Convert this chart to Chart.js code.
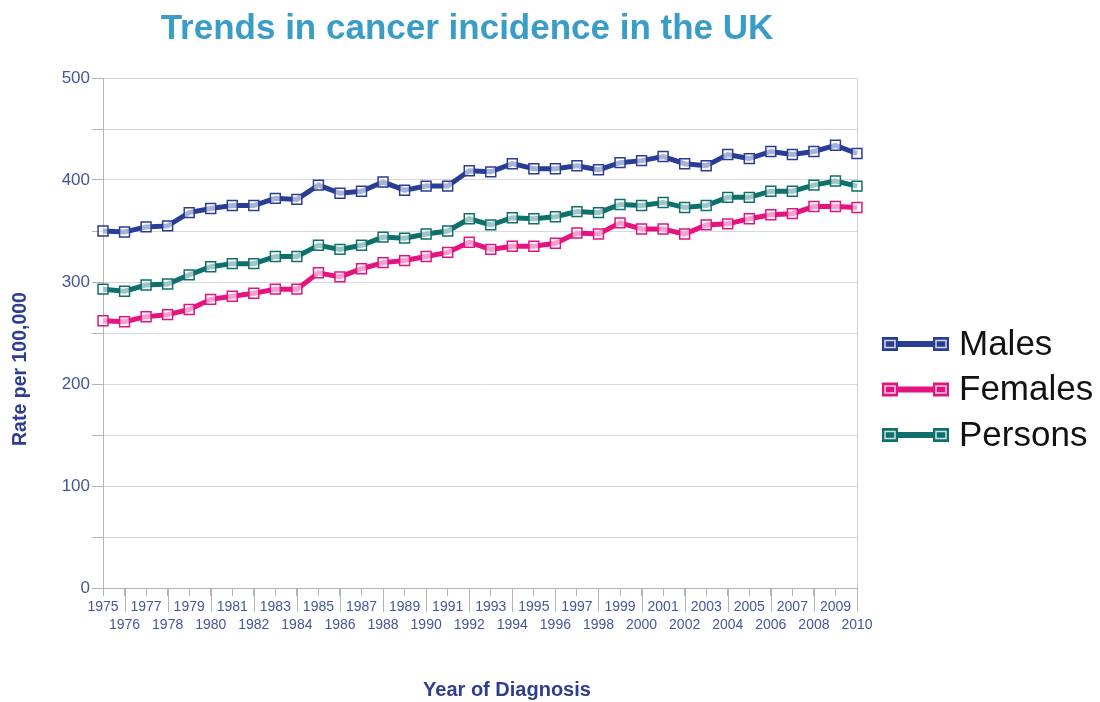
<!DOCTYPE html>
<html>
<head>
<meta charset="utf-8">
<title>Trends in cancer incidence in the UK</title>
<script src="https://cdn.jsdelivr.net/npm/chart.js@4.4.1/dist/chart.umd.min.js"></script>
<style>
  html, body { margin: 0; padding: 0; background: #fff; }
</style>
</head>
<body>
<canvas id="myChart" width="1100" height="702"></canvas>
<script>
// Data
const chartTitle = 'Trends in cancer incidence in the UK';
const xTitle = 'Year of Diagnosis';
const yTitle = 'Rate per 100,000';

const years = ['1975', '1976', '1977', '1978', '1979', '1980', '1981', '1982', '1983', '1984',
    '1985', '1986', '1987', '1988', '1989', '1990', '1991', '1992', '1993', '1994',
    '1995', '1996', '1997', '1998', '1999', '2000', '2001', '2002', '2003', '2004',
    '2005', '2006', '2007', '2008', '2009', '2010'];

const males = [350, 349, 354, 355, 368, 372, 375, 375, 382, 381,
    395, 387, 389, 398, 390, 394, 394, 409, 408, 416,
    411, 411, 414, 410, 417, 419, 423, 416, 414, 425,
    421, 428, 425, 428, 434, 426];

const females = [262, 261, 266, 268, 273, 283, 286, 289, 293, 293,
    309, 305, 313, 319, 321, 325, 329, 339, 332, 335,
    335, 338, 348, 347, 358, 352, 352, 347, 356, 357,
    362, 366, 367, 374, 374, 373];

const persons = [293, 291, 297, 298, 307, 315, 318, 318, 325, 325,
    336, 332, 336, 344, 343, 347, 350, 362, 356, 363,
    362, 364, 369, 368, 376, 375, 378, 373, 375, 383,
    383, 389, 389, 395, 399, 394];

const yTicks = [0, 100, 200, 300, 400, 500];

const FONT = '"Liberation Sans", Arial, Helvetica, sans-serif';
const tickBlue = '#45569e';
const axisGray = '#b4b4b4';

Chart.defaults.font.family = FONT;

function series(label, data, color) {
    return {
        label: label,
        data: data,
        borderColor: color,
        backgroundColor: 'rgba(255,255,255,0.6)',
        borderWidth: 5,
        tension: 0,
        pointStyle: 'rect',
        pointRadius: 7,
        pointHoverRadius: 7,
        pointBorderColor: color,
        pointBorderWidth: 1.5
    };
}

// titles, legend and the long staggered ticks under the x axis
const extras = {
    id: 'extras',
    afterDraw(chart) {
        const ctx = chart.ctx;
        const area = chart.chartArea;
        const xScale = chart.scales.x;
        ctx.save();

        // long ticks for the second row of year labels
        ctx.strokeStyle = axisGray;
        ctx.lineWidth = 1;
        years.forEach(function (y, i) {
            if (i % 2 === 1) {
                const px = Math.round(xScale.getPixelForValue(i)) + 0.5;
                ctx.beginPath();
                ctx.moveTo(px, area.bottom);
                ctx.lineTo(px, area.bottom + 24);
                ctx.stroke();
            }
        });

        // chart title
        ctx.font = 'bold 35px ' + FONT;
        ctx.fillStyle = '#3a9dc8';
        ctx.textAlign = 'center';
        ctx.textBaseline = 'middle';
        ctx.fillText(chartTitle, 467, 29);

        // axis titles
        ctx.font = 'bold 20px ' + FONT;
        ctx.fillStyle = '#2e3d8f';
        ctx.fillText(xTitle, 507, 690);

        ctx.save();
        ctx.translate(21, 369);
        ctx.rotate(-Math.PI / 2);
        ctx.font = 'bold 19.5px ' + FONT;
        ctx.fillText(yTitle, 0, 0);
        ctx.restore();

        // legend
        ctx.textAlign = 'left';
        ctx.font = '35px ' + FONT;
        chart.data.datasets.forEach(function (ds, i) {
            const cy = 344 + i * 45.5;
            const color = ds.borderColor;
            ctx.strokeStyle = color;
            ctx.lineWidth = 6;
            ctx.beginPath();
            ctx.moveTo(883, cy);
            ctx.lineTo(948, cy);
            ctx.stroke();
            [890, 941].forEach(function (cx) {
                ctx.fillStyle = color;
                ctx.fillRect(cx - 8, cy - 7, 16, 14);
                ctx.strokeStyle = 'rgba(255,255,255,0.8)';
                ctx.lineWidth = 1.5;
                ctx.strokeRect(cx - 5, cy - 3.5, 10, 7);
            });
            ctx.fillStyle = '#111';
            ctx.fillText(ds.label, 959, cy + 1);
        });

        ctx.restore();
    }
};

const data = {
    labels: years,
    datasets: [
        series('Males', males, '#2a3d94'),
        series('Females', females, '#e3137f'),
        series('Persons', persons, '#0f6f6b')
    ]
};

const config = {
    type: 'line',
    data: data,
    options: {
        responsive: false,
        animation: false,
        layout: { padding: { left: 0, right: 243, top: 78, bottom: 0 } },
        plugins: {
            legend: { display: false },
            title: { display: false },
            tooltip: { enabled: false }
        },
        scales: {
            x: {
                grid: {
                    color: function (c) {
                        return c.index === years.length - 1 ? '#cfcfcf' : 'rgba(0,0,0,0)';
                    },
                    tickColor: axisGray,
                    tickLength: 8
                },
                border: { color: axisGray },
                ticks: {
                    autoSkip: false,
                    maxRotation: 0,
                    minRotation: 0,
                    color: tickBlue,
                    padding: 2,
                    font: { size: 14, lineHeight: 1.3 },
                    callback: function (v, i) {
                        return i % 2 === 0 ? years[i] : ['', years[i]];
                    }
                },
                afterFit: function (scale) { scale.height = 114; }
            },
            y: {
                min: 0,
                max: 500,
                grid: { color: '#d8d8d8', tickColor: axisGray, tickLength: 11 },
                border: { color: axisGray },
                ticks: {
                    stepSize: 50,
                    autoSkip: false,
                    color: tickBlue,
                    padding: 2,
                    font: { size: 17 },
                    callback: function (v) { return yTicks.includes(v) ? v : ''; }
                },
                afterFit: function (scale) { scale.width = 103; }
            }
        }
    },
    plugins: [extras]
};

new Chart(document.getElementById('myChart'), config);
</script>
</body>
</html>
